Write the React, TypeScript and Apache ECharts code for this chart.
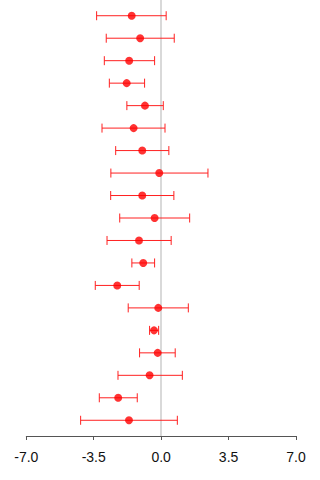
import React, { useEffect, useRef } from "react";
import * as echarts from "echarts";

// Point estimates and their confidence limits, listed from the top row down
const estimates = [-1.53, -1.09, -1.66, -1.79, -0.84, -1.43, -0.98, -0.1, -0.98, -0.34, -1.15, -0.93, -2.28, -0.15, -0.37, -0.18, -0.6, -2.23, -1.67];
const lowerLimits = [-3.35, -2.85, -2.95, -2.69, -1.78, -3.07, -2.36, -2.61, -2.62, -2.15, -2.81, -1.52, -3.42, -1.71, -0.6, -1.12, -2.24, -3.21, -4.18];
const upperLimits = [0.26, 0.68, -0.34, -0.86, 0.11, 0.2, 0.4, 2.43, 0.66, 1.48, 0.52, -0.34, -1.14, 1.41, -0.13, 0.73, 1.1, -1.24, 0.84];
const xTicks = [-7, -3.5, 0, 3.5, 7];

export default function App() {
  const ref = useRef<HTMLDivElement>(null);

  useEffect(() => {
    if (!ref.current) return;
    const chart = echarts.init(ref.current, undefined, { renderer: "svg" });

    const rows = estimates.map((_, i) => i + 1);
    const points = estimates.map((v, i) => [v, rows[i]]);
    const intervals = estimates.map((_, i) => [lowerLimits[i], upperLimits[i], rows[i]]);

    chart.setOption({
      animation: false,
      grid: { left: 26.3, right: 24, top: 0, bottom: 44 },
      xAxis: {
        type: "value",
        min: xTicks[0],
        max: xTicks[xTicks.length - 1],
        interval: 3.5,
        axisLine: { show: true, lineStyle: { color: "#555", width: 1 } },
        axisTick: { show: true, length: 4, lineStyle: { color: "#555" } },
        splitLine: { show: false },
        axisLabel: {
          margin: 14,
          fontSize: 14,
          color: "#111",
          fontFamily: "Liberation Sans, Arial, sans-serif",
          formatter: (v: number) => v.toFixed(1),
        },
      },
      yAxis: {
        type: "value",
        inverse: true,
        min: 0.3,
        max: 19.7,
        show: false,
      },
      series: [
        {
          // reference line at zero, kept underneath the intervals
          type: "scatter",
          data: [],
          z: 1,
          markLine: {
            silent: true,
            z: 1,
            symbol: "none",
            label: { show: false },
            lineStyle: { color: "#d9d9d9", width: 2, type: "solid" },
            data: [{ xAxis: 0 }],
          },
        },
        {
          type: "custom",
          data: intervals,
          z: 2,
          renderItem: (params: any, api: any) => {
            const lo = api.coord([api.value(0), api.value(2)]);
            const hi = api.coord([api.value(1), api.value(2)]);
            const cap = 4.5;
            const style = { stroke: "#ff2020", lineWidth: 1 };
            return {
              type: "group",
              children: [
                { type: "line", shape: { x1: lo[0], y1: lo[1], x2: hi[0], y2: hi[1] }, style },
                { type: "line", shape: { x1: lo[0], y1: lo[1] - cap, x2: lo[0], y2: lo[1] + cap }, style },
                { type: "line", shape: { x1: hi[0], y1: hi[1] - cap, x2: hi[0], y2: hi[1] + cap }, style },
              ],
            };
          },
        },
        {
          type: "scatter",
          data: points,
          symbol: "circle",
          symbolSize: 8,
          z: 3,
          itemStyle: { color: "#ff0000" },
        },
      ],
    });

    return () => chart.dispose();
  }, []);

  return (
    <div
      ref={ref}
      style={{ position: "absolute", left: 0, top: 0, width: 320, height: 480 }}
    />
  );
}
